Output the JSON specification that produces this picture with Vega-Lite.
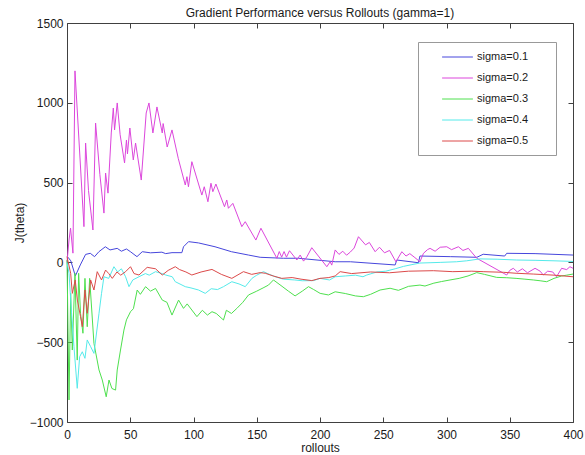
{
"$schema":"https://vega.github.io/schema/vega-lite/v6.json",
"width":506,"height":399,
"autosize":{"type":"none"},
"padding":{"left":67,"top":23,"right":12,"bottom":33},
"background":"white",
"title":{"text":"Gradient Performance versus Rollouts (gamma=1)","fontSize":12,"font":"Liberation Sans","fontWeight":"normal","color":"#1a1a1a","offset":-3},
"config":{
 "view":{"stroke":"#404040","strokeWidth":1},
 "font":"Liberation Sans",
 "axis":{"domain":false,"offset":-5,"tickColor":"#404040","tickSize":5,"labelFont":"Liberation Sans","labelFontSize":12,"labelColor":"#1a1a1a","titleFont":"Liberation Sans","titleFontSize":12,"titleFontWeight":"normal","titleColor":"#1a1a1a","grid":false,"labelFlush":false,"labelOverlap":false,"format":"d"},
 "legend":{"orient":"none","legendX":351,"legendY":19,"symbolType":"M-2.8,0H2.8M15.9,0","symbolSize":121,"symbolStrokeWidth":1,"symbolOffset":24.5,"labelOffset":13.5,"labelFont":"Liberation Sans","labelFontSize":11,"labelColor":"#1a1a1a","strokeColor":"#999999","fillColor":"white","padding":9,"rowPadding":10}
},
"data":{"values":[
{"s":"sigma=0.1","x":0,"y":40},{"s":"sigma=0.1","x":1,"y":30},{"s":"sigma=0.1","x":3,"y":10},{"s":"sigma=0.1","x":6.6,"y":-85},{"s":"sigma=0.1","x":10.5,"y":-16},{"s":"sigma=0.1","x":14.7,"y":50},{"s":"sigma=0.1","x":18.4,"y":57},{"s":"sigma=0.1","x":21.8,"y":36},{"s":"sigma=0.1","x":25.2,"y":67},{"s":"sigma=0.1","x":30.3,"y":98},{"s":"sigma=0.1","x":34,"y":78},{"s":"sigma=0.1","x":39.7,"y":88},{"s":"sigma=0.1","x":43,"y":70},{"s":"sigma=0.1","x":47,"y":84},{"s":"sigma=0.1","x":50,"y":68},{"s":"sigma=0.1","x":55.3,"y":36},{"s":"sigma=0.1","x":59.5,"y":67},{"s":"sigma=0.1","x":66,"y":60},{"s":"sigma=0.1","x":75,"y":64},{"s":"sigma=0.1","x":78,"y":55},{"s":"sigma=0.1","x":83,"y":61},{"s":"sigma=0.1","x":90.8,"y":61},{"s":"sigma=0.1","x":92.1,"y":98},{"s":"sigma=0.1","x":96.1,"y":130},{"s":"sigma=0.1","x":104,"y":122},{"s":"sigma=0.1","x":117,"y":98},{"s":"sigma=0.1","x":130,"y":67},{"s":"sigma=0.1","x":143.5,"y":46},{"s":"sigma=0.1","x":152.7,"y":32},{"s":"sigma=0.1","x":171,"y":26},{"s":"sigma=0.1","x":183,"y":26},{"s":"sigma=0.1","x":212,"y":4},{"s":"sigma=0.1","x":224,"y":4},{"s":"sigma=0.1","x":259.4,"y":-16},{"s":"sigma=0.1","x":260.7,"y":15},{"s":"sigma=0.1","x":277.8,"y":-2},{"s":"sigma=0.1","x":279,"y":40},{"s":"sigma=0.1","x":303,"y":36},{"s":"sigma=0.1","x":324,"y":32},{"s":"sigma=0.1","x":329,"y":51},{"s":"sigma=0.1","x":346,"y":40},{"s":"sigma=0.1","x":347.6,"y":57},{"s":"sigma=0.1","x":370,"y":55},{"s":"sigma=0.1","x":400,"y":46},
{"s":"sigma=0.2","x":0,"y":0},{"s":"sigma=0.2","x":1.6,"y":140},{"s":"sigma=0.2","x":2.8,"y":215},{"s":"sigma=0.2","x":4.7,"y":58},{"s":"sigma=0.2","x":6.3,"y":1200},{"s":"sigma=0.2","x":13.4,"y":224},{"s":"sigma=0.2","x":14.7,"y":748},{"s":"sigma=0.2","x":17,"y":450},{"s":"sigma=0.2","x":20.5,"y":203},{"s":"sigma=0.2","x":22.6,"y":873},{"s":"sigma=0.2","x":26,"y":550},{"s":"sigma=0.2","x":29.2,"y":309},{"s":"sigma=0.2","x":30.5,"y":560},{"s":"sigma=0.2","x":32.4,"y":434},{"s":"sigma=0.2","x":35,"y":811},{"s":"sigma=0.2","x":36.6,"y":967},{"s":"sigma=0.2","x":37.6,"y":830},{"s":"sigma=0.2","x":39.7,"y":999},{"s":"sigma=0.2","x":42,"y":800},{"s":"sigma=0.2","x":45.5,"y":623},{"s":"sigma=0.2","x":47,"y":767},{"s":"sigma=0.2","x":47.8,"y":680},{"s":"sigma=0.2","x":49.7,"y":842},{"s":"sigma=0.2","x":52.4,"y":642},{"s":"sigma=0.2","x":54.2,"y":748},{"s":"sigma=0.2","x":58.7,"y":516},{"s":"sigma=0.2","x":62.6,"y":936},{"s":"sigma=0.2","x":64.8,"y":999},{"s":"sigma=0.2","x":67.9,"y":811},{"s":"sigma=0.2","x":71.1,"y":974},{"s":"sigma=0.2","x":75.3,"y":811},{"s":"sigma=0.2","x":76,"y":870},{"s":"sigma=0.2","x":79.2,"y":723},{"s":"sigma=0.2","x":83,"y":830},{"s":"sigma=0.2","x":88,"y":650},{"s":"sigma=0.2","x":93.5,"y":485},{"s":"sigma=0.2","x":94.8,"y":537},{"s":"sigma=0.2","x":96,"y":474},{"s":"sigma=0.2","x":98.7,"y":631},{"s":"sigma=0.2","x":106.6,"y":422},{"s":"sigma=0.2","x":108.5,"y":474},{"s":"sigma=0.2","x":111.4,"y":380},{"s":"sigma=0.2","x":113.8,"y":496},{"s":"sigma=0.2","x":115.3,"y":443},{"s":"sigma=0.2","x":117.7,"y":491},{"s":"sigma=0.2","x":124.5,"y":349},{"s":"sigma=0.2","x":126.3,"y":391},{"s":"sigma=0.2","x":127.6,"y":339},{"s":"sigma=0.2","x":131.1,"y":370},{"s":"sigma=0.2","x":138.2,"y":224},{"s":"sigma=0.2","x":140.9,"y":255},{"s":"sigma=0.2","x":149.3,"y":140},{"s":"sigma=0.2","x":153.3,"y":214},{"s":"sigma=0.2","x":165.9,"y":26},{"s":"sigma=0.2","x":167.8,"y":68},{"s":"sigma=0.2","x":169.7,"y":33},{"s":"sigma=0.2","x":171.6,"y":68},{"s":"sigma=0.2","x":173.5,"y":33},{"s":"sigma=0.2","x":175.9,"y":73},{"s":"sigma=0.2","x":181.7,"y":15},{"s":"sigma=0.2","x":184.3,"y":46},{"s":"sigma=0.2","x":187,"y":8},{"s":"sigma=0.2","x":189.6,"y":35},{"s":"sigma=0.2","x":193.5,"y":92},{"s":"sigma=0.2","x":205.4,"y":-27},{"s":"sigma=0.2","x":208,"y":4},{"s":"sigma=0.2","x":209.3,"y":-17},{"s":"sigma=0.2","x":212,"y":78},{"s":"sigma=0.2","x":215,"y":50},{"s":"sigma=0.2","x":218,"y":70},{"s":"sigma=0.2","x":221,"y":45},{"s":"sigma=0.2","x":224,"y":65},{"s":"sigma=0.2","x":227,"y":90},{"s":"sigma=0.2","x":230.4,"y":161},{"s":"sigma=0.2","x":236,"y":110},{"s":"sigma=0.2","x":239,"y":125},{"s":"sigma=0.2","x":243.6,"y":67},{"s":"sigma=0.2","x":247,"y":95},{"s":"sigma=0.2","x":251,"y":60},{"s":"sigma=0.2","x":255,"y":75},{"s":"sigma=0.2","x":260,"y":4},{"s":"sigma=0.2","x":264.7,"y":67},{"s":"sigma=0.2","x":268,"y":40},{"s":"sigma=0.2","x":271,"y":55},{"s":"sigma=0.2","x":275,"y":30},{"s":"sigma=0.2","x":279,"y":4},{"s":"sigma=0.2","x":281.8,"y":57},{"s":"sigma=0.2","x":285,"y":80},{"s":"sigma=0.2","x":287,"y":88},{"s":"sigma=0.2","x":291,"y":70},{"s":"sigma=0.2","x":295,"y":95},{"s":"sigma=0.2","x":300.2,"y":98},{"s":"sigma=0.2","x":304,"y":80},{"s":"sigma=0.2","x":309.4,"y":98},{"s":"sigma=0.2","x":313,"y":75},{"s":"sigma=0.2","x":317.3,"y":88},{"s":"sigma=0.2","x":323.9,"y":26},{"s":"sigma=0.2","x":347.6,"y":-79},{"s":"sigma=0.2","x":350,"y":-50},{"s":"sigma=0.2","x":352.8,"y":-37},{"s":"sigma=0.2","x":356,"y":-60},{"s":"sigma=0.2","x":360,"y":-40},{"s":"sigma=0.2","x":364,"y":-65},{"s":"sigma=0.2","x":370,"y":-37},{"s":"sigma=0.2","x":374,"y":-55},{"s":"sigma=0.2","x":376.5,"y":-79},{"s":"sigma=0.2","x":380,"y":-55},{"s":"sigma=0.2","x":384,"y":-60},{"s":"sigma=0.2","x":387,"y":-90},{"s":"sigma=0.2","x":391,"y":-37},{"s":"sigma=0.2","x":395,"y":-45},{"s":"sigma=0.2","x":397.6,"y":-27},{"s":"sigma=0.2","x":400,"y":-37},
{"s":"sigma=0.3","x":0,"y":15},{"s":"sigma=0.3","x":1.6,"y":-862},{"s":"sigma=0.3","x":2.9,"y":-194},{"s":"sigma=0.3","x":4.2,"y":-549},{"s":"sigma=0.3","x":6.3,"y":-68},{"s":"sigma=0.3","x":8.1,"y":-612},{"s":"sigma=0.3","x":9.2,"y":-68},{"s":"sigma=0.3","x":10.7,"y":-319},{"s":"sigma=0.3","x":12.6,"y":-444},{"s":"sigma=0.3","x":14.2,"y":-100},{"s":"sigma=0.3","x":16,"y":-403},{"s":"sigma=0.3","x":17.9,"y":-100},{"s":"sigma=0.3","x":21.3,"y":-507},{"s":"sigma=0.3","x":25.3,"y":-674},{"s":"sigma=0.3","x":27.9,"y":-737},{"s":"sigma=0.3","x":31,"y":-842},{"s":"sigma=0.3","x":33.2,"y":-737},{"s":"sigma=0.3","x":35.5,"y":-790},{"s":"sigma=0.3","x":38.4,"y":-800},{"s":"sigma=0.3","x":39.7,"y":-674},{"s":"sigma=0.3","x":42.3,"y":-549},{"s":"sigma=0.3","x":45,"y":-424},{"s":"sigma=0.3","x":47,"y":-360},{"s":"sigma=0.3","x":50.2,"y":-309},{"s":"sigma=0.3","x":52.5,"y":-290},{"s":"sigma=0.3","x":55.5,"y":-173},{"s":"sigma=0.3","x":58,"y":-200},{"s":"sigma=0.3","x":62.1,"y":-152},{"s":"sigma=0.3","x":66,"y":-180},{"s":"sigma=0.3","x":70,"y":-163},{"s":"sigma=0.3","x":75.3,"y":-236},{"s":"sigma=0.3","x":79,"y":-250},{"s":"sigma=0.3","x":83,"y":-330},{"s":"sigma=0.3","x":88.2,"y":-236},{"s":"sigma=0.3","x":92.1,"y":-288},{"s":"sigma=0.3","x":95,"y":-260},{"s":"sigma=0.3","x":102.7,"y":-340},{"s":"sigma=0.3","x":107,"y":-300},{"s":"sigma=0.3","x":111,"y":-330},{"s":"sigma=0.3","x":114.6,"y":-309},{"s":"sigma=0.3","x":118,"y":-320},{"s":"sigma=0.3","x":123.7,"y":-361},{"s":"sigma=0.3","x":126,"y":-300},{"s":"sigma=0.3","x":130,"y":-320},{"s":"sigma=0.3","x":134.3,"y":-288},{"s":"sigma=0.3","x":139,"y":-250},{"s":"sigma=0.3","x":143.5,"y":-204},{"s":"sigma=0.3","x":150,"y":-180},{"s":"sigma=0.3","x":155,"y":-160},{"s":"sigma=0.3","x":159.3,"y":-142},{"s":"sigma=0.3","x":163.2,"y":-110},{"s":"sigma=0.3","x":170,"y":-150},{"s":"sigma=0.3","x":175,"y":-180},{"s":"sigma=0.3","x":180.3,"y":-210},{"s":"sigma=0.3","x":186,"y":-180},{"s":"sigma=0.3","x":190.9,"y":-152},{"s":"sigma=0.3","x":195,"y":-170},{"s":"sigma=0.3","x":200.1,"y":-194},{"s":"sigma=0.3","x":206.7,"y":-204},{"s":"sigma=0.3","x":212,"y":-184},{"s":"sigma=0.3","x":220,"y":-195},{"s":"sigma=0.3","x":228,"y":-210},{"s":"sigma=0.3","x":234.3,"y":-215},{"s":"sigma=0.3","x":240,"y":-200},{"s":"sigma=0.3","x":247.5,"y":-173},{"s":"sigma=0.3","x":255.4,"y":-162},{"s":"sigma=0.3","x":262,"y":-175},{"s":"sigma=0.3","x":270,"y":-150},{"s":"sigma=0.3","x":279,"y":-142},{"s":"sigma=0.3","x":283,"y":-148},{"s":"sigma=0.3","x":290,"y":-130},{"s":"sigma=0.3","x":296,"y":-120},{"s":"sigma=0.3","x":302.8,"y":-110},{"s":"sigma=0.3","x":310,"y":-100},{"s":"sigma=0.3","x":317,"y":-85},{"s":"sigma=0.3","x":323.9,"y":-64},{"s":"sigma=0.3","x":330,"y":-75},{"s":"sigma=0.3","x":339.7,"y":-94},{"s":"sigma=0.3","x":347.6,"y":-96},{"s":"sigma=0.3","x":355,"y":-100},{"s":"sigma=0.3","x":362,"y":-105},{"s":"sigma=0.3","x":368.6,"y":-110},{"s":"sigma=0.3","x":374,"y":-115},{"s":"sigma=0.3","x":379.2,"y":-121},{"s":"sigma=0.3","x":385,"y":-100},{"s":"sigma=0.3","x":391,"y":-85},{"s":"sigma=0.3","x":395,"y":-80},{"s":"sigma=0.3","x":400,"y":-73},
{"s":"sigma=0.4","x":0,"y":0},{"s":"sigma=0.4","x":1.6,"y":-68},{"s":"sigma=0.4","x":3.6,"y":-319},{"s":"sigma=0.4","x":5.5,"y":-528},{"s":"sigma=0.4","x":8.1,"y":-789},{"s":"sigma=0.4","x":10,"y":-591},{"s":"sigma=0.4","x":12.1,"y":-560},{"s":"sigma=0.4","x":14.2,"y":-601},{"s":"sigma=0.4","x":16,"y":-486},{"s":"sigma=0.4","x":18.7,"y":-528},{"s":"sigma=0.4","x":21.3,"y":-570},{"s":"sigma=0.4","x":25.3,"y":-319},{"s":"sigma=0.4","x":27.3,"y":-194},{"s":"sigma=0.4","x":29.2,"y":-90},{"s":"sigma=0.4","x":33,"y":-100},{"s":"sigma=0.4","x":37.1,"y":-27},{"s":"sigma=0.4","x":40,"y":-60},{"s":"sigma=0.4","x":43,"y":-40},{"s":"sigma=0.4","x":46.3,"y":-90},{"s":"sigma=0.4","x":49,"y":-152},{"s":"sigma=0.4","x":52,"y":-110},{"s":"sigma=0.4","x":56.9,"y":-90},{"s":"sigma=0.4","x":62,"y":-70},{"s":"sigma=0.4","x":65,"y":-80},{"s":"sigma=0.4","x":70,"y":-58},{"s":"sigma=0.4","x":75,"y":-70},{"s":"sigma=0.4","x":78,"y":-79},{"s":"sigma=0.4","x":83.2,"y":-90},{"s":"sigma=0.4","x":85.6,"y":-121},{"s":"sigma=0.4","x":93.5,"y":-152},{"s":"sigma=0.4","x":98,"y":-160},{"s":"sigma=0.4","x":104,"y":-173},{"s":"sigma=0.4","x":109.3,"y":-194},{"s":"sigma=0.4","x":114,"y":-165},{"s":"sigma=0.4","x":119,"y":-170},{"s":"sigma=0.4","x":123.7,"y":-152},{"s":"sigma=0.4","x":130.3,"y":-121},{"s":"sigma=0.4","x":136,"y":-135},{"s":"sigma=0.4","x":140.9,"y":-152},{"s":"sigma=0.4","x":146.2,"y":-100},{"s":"sigma=0.4","x":150,"y":-80},{"s":"sigma=0.4","x":155.3,"y":-58},{"s":"sigma=0.4","x":160,"y":-75},{"s":"sigma=0.4","x":164.6,"y":-90},{"s":"sigma=0.4","x":171,"y":-105},{"s":"sigma=0.4","x":180,"y":-110},{"s":"sigma=0.4","x":186,"y":-115},{"s":"sigma=0.4","x":194.8,"y":-114},{"s":"sigma=0.4","x":200,"y":-100},{"s":"sigma=0.4","x":207.6,"y":-110},{"s":"sigma=0.4","x":212,"y":-90},{"s":"sigma=0.4","x":220,"y":-85},{"s":"sigma=0.4","x":228,"y":-80},{"s":"sigma=0.4","x":234,"y":-90},{"s":"sigma=0.4","x":237,"y":-79},{"s":"sigma=0.4","x":245,"y":-60},{"s":"sigma=0.4","x":252,"y":-55},{"s":"sigma=0.4","x":259.4,"y":-40},{"s":"sigma=0.4","x":266,"y":-25},{"s":"sigma=0.4","x":272,"y":-15},{"s":"sigma=0.4","x":279,"y":-4},{"s":"sigma=0.4","x":287,"y":-2},{"s":"sigma=0.4","x":295,"y":0},{"s":"sigma=0.4","x":308,"y":4},{"s":"sigma=0.4","x":316,"y":10},{"s":"sigma=0.4","x":326.5,"y":22},{"s":"sigma=0.4","x":340,"y":20},{"s":"sigma=0.4","x":355.5,"y":15},{"s":"sigma=0.4","x":370,"y":13},{"s":"sigma=0.4","x":385,"y":10},{"s":"sigma=0.4","x":400,"y":6},
{"s":"sigma=0.5","x":0,"y":36},{"s":"sigma=0.5","x":2.9,"y":-68},{"s":"sigma=0.5","x":4.2,"y":-194},{"s":"sigma=0.5","x":6.5,"y":-110},{"s":"sigma=0.5","x":8.2,"y":-236},{"s":"sigma=0.5","x":10.7,"y":-340},{"s":"sigma=0.5","x":12.1,"y":-403},{"s":"sigma=0.5","x":14.2,"y":-173},{"s":"sigma=0.5","x":16,"y":-319},{"s":"sigma=0.5","x":18.7,"y":-110},{"s":"sigma=0.5","x":21.3,"y":-173},{"s":"sigma=0.5","x":23.9,"y":-58},{"s":"sigma=0.5","x":27.3,"y":-110},{"s":"sigma=0.5","x":30.5,"y":-48},{"s":"sigma=0.5","x":33,"y":-70},{"s":"sigma=0.5","x":35.8,"y":-100},{"s":"sigma=0.5","x":39.5,"y":-60},{"s":"sigma=0.5","x":42.5,"y":-80},{"s":"sigma=0.5","x":46.3,"y":-58},{"s":"sigma=0.5","x":50.2,"y":-27},{"s":"sigma=0.5","x":53,"y":-70},{"s":"sigma=0.5","x":56.9,"y":-79},{"s":"sigma=0.5","x":63.4,"y":-31},{"s":"sigma=0.5","x":70,"y":-40},{"s":"sigma=0.5","x":75.3,"y":-79},{"s":"sigma=0.5","x":80,"y":-50},{"s":"sigma=0.5","x":85.6,"y":-27},{"s":"sigma=0.5","x":89,"y":-45},{"s":"sigma=0.5","x":94,"y":-60},{"s":"sigma=0.5","x":98.7,"y":-79},{"s":"sigma=0.5","x":106,"y":-60},{"s":"sigma=0.5","x":114.6,"y":-44},{"s":"sigma=0.5","x":122,"y":-75},{"s":"sigma=0.5","x":130.3,"y":-100},{"s":"sigma=0.5","x":139.5,"y":-58},{"s":"sigma=0.5","x":146,"y":-75},{"s":"sigma=0.5","x":152.7,"y":-64},{"s":"sigma=0.5","x":156.7,"y":-68},{"s":"sigma=0.5","x":163,"y":-85},{"s":"sigma=0.5","x":169.8,"y":-100},{"s":"sigma=0.5","x":178,"y":-95},{"s":"sigma=0.5","x":185,"y":-105},{"s":"sigma=0.5","x":193.5,"y":-114},{"s":"sigma=0.5","x":200,"y":-100},{"s":"sigma=0.5","x":207,"y":-95},{"s":"sigma=0.5","x":212,"y":-85},{"s":"sigma=0.5","x":215.9,"y":-58},{"s":"sigma=0.5","x":225,"y":-70},{"s":"sigma=0.5","x":240,"y":-60},{"s":"sigma=0.5","x":255,"y":-65},{"s":"sigma=0.5","x":270,"y":-55},{"s":"sigma=0.5","x":289.6,"y":-52},{"s":"sigma=0.5","x":305,"y":-58},{"s":"sigma=0.5","x":320,"y":-55},{"s":"sigma=0.5","x":329,"y":-58},{"s":"sigma=0.5","x":345,"y":-62},{"s":"sigma=0.5","x":355,"y":-68},{"s":"sigma=0.5","x":368.6,"y":-73},{"s":"sigma=0.5","x":385,"y":-80},{"s":"sigma=0.5","x":400,"y":-90}
]},
"layer":[
 {"mark":{"type":"line","strokeWidth":1},
  "encoding":{
   "x":{"field":"x","type":"quantitative","scale":{"domain":[0,400],"nice":false},"axis":{"values":[0,50,100,150,200,250,300,350,400],"title":"rollouts","labelPadding":7,"titlePadding":2}},
   "y":{"field":"y","type":"quantitative","scale":{"domain":[-1000,1500],"nice":false},"axis":{"values":[-1000,-500,0,500,1000,1500],"title":"J(theta)","labelPadding":4,"titlePadding":3}},
   "color":{"field":"s","type":"nominal","scale":{"domain":["sigma=0.1","sigma=0.2","sigma=0.3","sigma=0.4","sigma=0.5"],"range":["#4646dc","#dc46dc","#4ee04e","#55eaea","#dc4a4a"]},"legend":{"title":null,"encode":{"symbols":{"update":{"stroke":{"scale":"color","field":"value"},"strokeWidth":{"value":1},"fill":{"value":"transparent"}}}}}}
  }},
 {"mark":{"type":"line","opacity":0},
  "encoding":{
   "x":{"field":"x","type":"quantitative","scale":{"domain":[0,400],"nice":false},"axis":{"orient":"top","values":[0,50,100,150,200,250,300,350,400],"labels":false,"title":null}},
   "y":{"field":"y","type":"quantitative","scale":{"domain":[-1000,1500],"nice":false},"axis":{"orient":"right","values":[-1000,-500,0,500,1000,1500],"labels":false,"title":null}},
   "detail":{"field":"s"}
  }}
],
"resolve":{"axis":{"x":"independent","y":"independent"}}
}
